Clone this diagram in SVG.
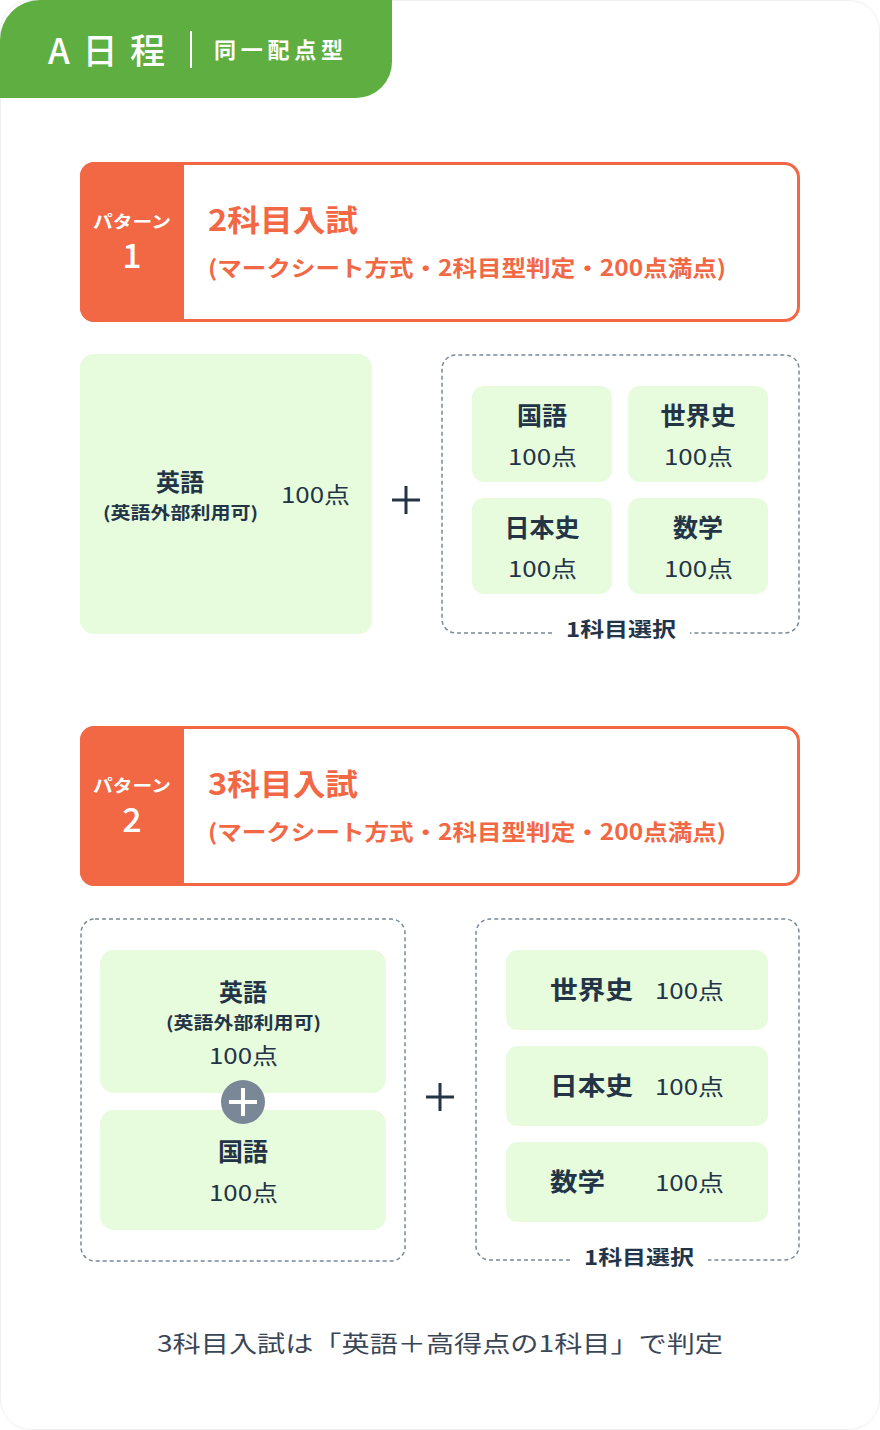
<svg xmlns="http://www.w3.org/2000/svg" width="880" height="1430" viewBox="0 0 880 1430">
<style>
text{font-family:"Noto Sans CJK JP","Noto Sans",sans-serif}
.o{fill:#f26744}
.d{fill:#243447}
.g{fill:#e6fcdc}
.dash{fill:none;stroke:#7a8896;stroke-width:1.5;stroke-dasharray:4 3}
.b{font-weight:700}
</style>
<rect x="0.5" y="0.5" width="879" height="1429" rx="30" fill="#fff" stroke="#f0f0f0"/>
<g id="header">
<path d="M0 40 A40 40 0 0 1 40 0 H392 V62 A36 36 0 0 1 356 98 H0 Z" fill="#5fae41"/>
<text x="48" y="64" font-size="35" fill="#fff" font-weight="500" textLength="117" lengthAdjust="spacing">A日程</text>
<rect x="190" y="31" width="2" height="37" fill="#fff"/>
<text x="214" y="58" font-size="22" fill="#fff" font-weight="700" textLength="129" lengthAdjust="spacing">同一配点型</text>
</g>
<g id="pattern1">
<rect x="81.5" y="163.5" width="717" height="157" rx="14" fill="#fff" stroke="#f26744" stroke-width="3"/>
<path d="M94 162 H184 V322 H94 A14 14 0 0 1 80 308 V176 A14 14 0 0 1 94 162Z" class="o"/>
<text x="93" y="228" font-size="17" fill="#fff" font-weight="700" textLength="78" lengthAdjust="spacingAndGlyphs">パターン</text>
<text x="132" y="268" font-size="34" fill="#fff" font-weight="500" text-anchor="middle">1</text>
<text x="208" y="231" font-size="30" class="o b" textLength="150" lengthAdjust="spacingAndGlyphs">2科目入試</text>
<text x="208" y="276" font-size="22" class="o b" textLength="518" lengthAdjust="spacingAndGlyphs">(マークシート方式・2科目型判定・200点満点)</text>
</g>
<g id="p1-english">
<rect x="80" y="354" width="292" height="280" rx="14" class="g"/>
<text x="180" y="491" font-size="24" text-anchor="middle" class="d b">英語</text>
<text x="103" y="519" font-size="17" class="d b" textLength="155" lengthAdjust="spacingAndGlyphs">(英語外部利用可)</text>
<text x="281" y="503" font-size="22" class="d" textLength="69" lengthAdjust="spacingAndGlyphs">100点</text>
</g>
<g id="p1-choice">
<path class="dash" d="M552 633 H456 A14 14 0 0 1 442 619 V369 A14 14 0 0 1 456 355 H785 A14 14 0 0 1 799 369 V619 A14 14 0 0 1 785 633 H690"/>
<rect x="472" y="386" width="140" height="96" rx="12" class="g"/>
<text x="542" y="425" font-size="25" text-anchor="middle" class="d b">国語</text>
<text x="508" y="465" font-size="22" class="d" textLength="69" lengthAdjust="spacingAndGlyphs">100点</text>
<rect x="628" y="386" width="140" height="96" rx="12" class="g"/>
<text x="698" y="425" font-size="25" text-anchor="middle" class="d b">世界史</text>
<text x="664" y="465" font-size="22" class="d" textLength="69" lengthAdjust="spacingAndGlyphs">100点</text>
<rect x="472" y="498" width="140" height="96" rx="12" class="g"/>
<text x="542" y="537" font-size="25" text-anchor="middle" class="d b">日本史</text>
<text x="508" y="577" font-size="22" class="d" textLength="69" lengthAdjust="spacingAndGlyphs">100点</text>
<rect x="628" y="498" width="140" height="96" rx="12" class="g"/>
<text x="698" y="537" font-size="25" text-anchor="middle" class="d b">数学</text>
<text x="664" y="577" font-size="22" class="d" textLength="69" lengthAdjust="spacingAndGlyphs">100点</text>
<text x="566" y="637" font-size="20" class="d b" textLength="110" lengthAdjust="spacingAndGlyphs">1科目選択</text>
</g>
<g id="connectors">
<path d="M392 500 H420 M406 486 V514" stroke="#243447" stroke-width="3"/>
<path d="M426 1097 H454 M440 1083 V1111" stroke="#243447" stroke-width="3"/>
</g>
<g id="pattern2">
<rect x="81.5" y="727.5" width="717" height="157" rx="14" fill="#fff" stroke="#f26744" stroke-width="3"/>
<path d="M94 726 H184 V886 H94 A14 14 0 0 1 80 872 V740 A14 14 0 0 1 94 726Z" class="o"/>
<text x="93" y="792" font-size="17" fill="#fff" font-weight="700" textLength="78" lengthAdjust="spacingAndGlyphs">パターン</text>
<text x="132" y="832" font-size="34" fill="#fff" font-weight="500" text-anchor="middle">2</text>
<text x="208" y="795" font-size="30" class="o b" textLength="150" lengthAdjust="spacingAndGlyphs">3科目入試</text>
<text x="208" y="840" font-size="22" class="o b" textLength="518" lengthAdjust="spacingAndGlyphs">(マークシート方式・2科目型判定・200点満点)</text>
</g>
<g id="p2-required">
<rect class="dash" x="81" y="919" width="324" height="342" rx="14"/>
<rect x="100" y="950" width="286" height="143" rx="14" class="g"/>
<text x="243" y="1001" font-size="24" text-anchor="middle" class="d b">英語</text>
<text x="166" y="1029" font-size="17" class="d b" textLength="155" lengthAdjust="spacingAndGlyphs">(英語外部利用可)</text>
<text x="209" y="1064" font-size="22" class="d" textLength="69" lengthAdjust="spacingAndGlyphs">100点</text>
<rect x="100" y="1110" width="286" height="120" rx="14" class="g"/>
<text x="243" y="1161" font-size="25" text-anchor="middle" class="d b">国語</text>
<text x="209" y="1201" font-size="22" class="d" textLength="69" lengthAdjust="spacingAndGlyphs">100点</text>
<circle cx="243" cy="1102" r="22" fill="#798796"/>
<path d="M229 1102 H257 M243 1088 V1116" stroke="#fff" stroke-width="4"/>
</g>
<g id="p2-choice">
<path class="dash" d="M570 1260 H490 A14 14 0 0 1 476 1246 V933 A14 14 0 0 1 490 919 H785 A14 14 0 0 1 799 933 V1246 A14 14 0 0 1 785 1260 H708"/>
<rect x="506" y="950" width="262" height="80" rx="12" class="g"/>
<text x="550" y="999" font-size="25" class="d b" textLength="83" lengthAdjust="spacingAndGlyphs">世界史</text>
<text x="655" y="999" font-size="22" class="d" textLength="69" lengthAdjust="spacingAndGlyphs">100点</text>
<rect x="506" y="1046" width="262" height="80" rx="12" class="g"/>
<text x="550" y="1095" font-size="25" class="d b" textLength="83" lengthAdjust="spacingAndGlyphs">日本史</text>
<text x="655" y="1095" font-size="22" class="d" textLength="69" lengthAdjust="spacingAndGlyphs">100点</text>
<rect x="506" y="1142" width="262" height="80" rx="12" class="g"/>
<text x="550" y="1191" font-size="25" class="d b" textLength="55" lengthAdjust="spacingAndGlyphs">数学</text>
<text x="655" y="1191" font-size="22" class="d" textLength="69" lengthAdjust="spacingAndGlyphs">100点</text>
<text x="584" y="1265" font-size="20" class="d b" textLength="110" lengthAdjust="spacingAndGlyphs">1科目選択</text>
</g>
<text x="157" y="1352" font-size="23" fill="#3a4656" textLength="566" lengthAdjust="spacingAndGlyphs">3科目入試は「英語＋高得点の1科目」で判定</text>
</svg>
